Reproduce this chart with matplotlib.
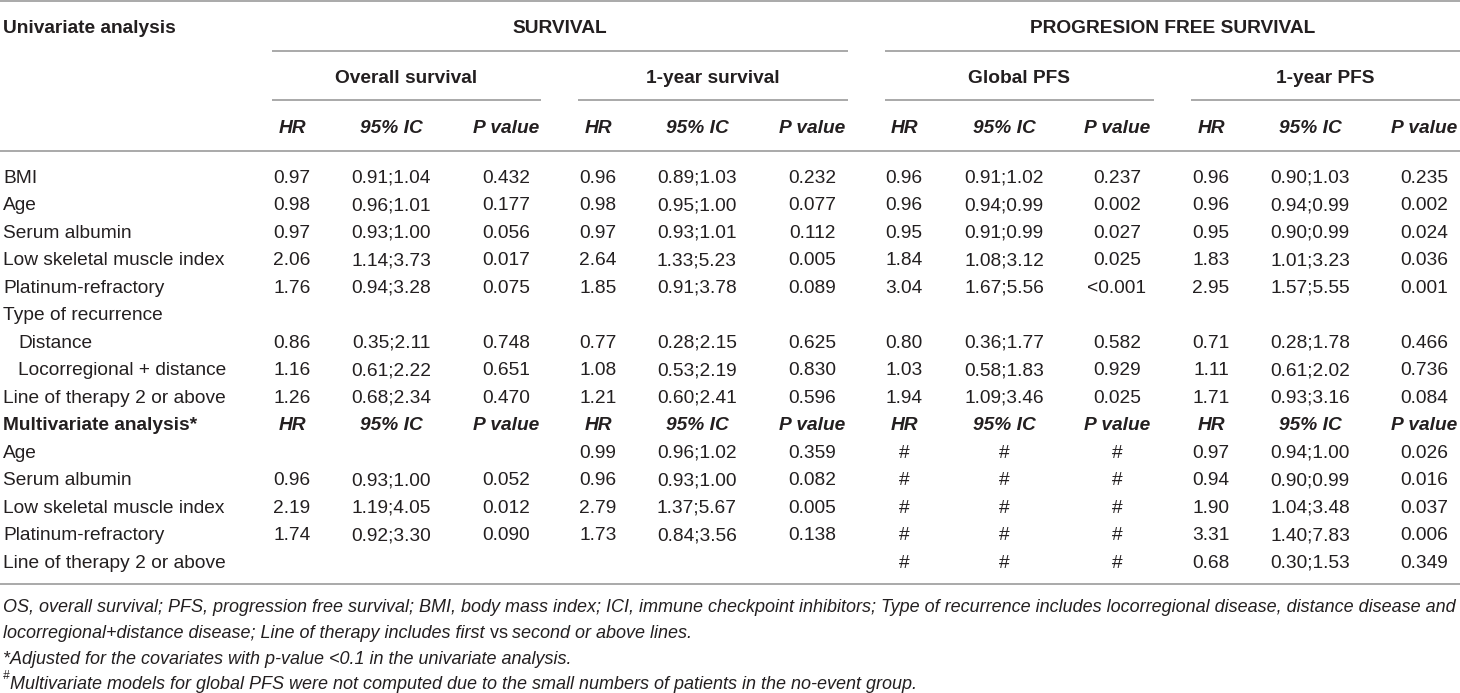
import matplotlib
matplotlib.use("Agg")
import matplotlib.pyplot as plt
from matplotlib.lines import Line2D

# ---- table content ----
uni_labels = ["BMI", "Age", "Serum albumin", "Low skeletal muscle index",
              "Platinum-refractory", "Type of recurrence", "Distance",
              "Locorregional + distance", "Line of therapy 2 or above"]
uni_indent = [False, False, False, False, False, False, True, True, False]
multi_labels = ["Age", "Serum albumin", "Low skeletal muscle index",
                "Platinum-refractory", "Line of therapy 2 or above"]

# (HR, 95% IC, P value) per row; None = empty row
uni_os = [("0.97", "0.91;1.04", "0.432"), ("0.98", "0.96;1.01", "0.177"),
          ("0.97", "0.93;1.00", "0.056"), ("2.06", "1.14;3.73", "0.017"),
          ("1.76", "0.94;3.28", "0.075"), None,
          ("0.86", "0.35;2.11", "0.748"), ("1.16", "0.61;2.22", "0.651"),
          ("1.26", "0.68;2.34", "0.470")]
uni_1y = [("0.96", "0.89;1.03", "0.232"), ("0.98", "0.95;1.00", "0.077"),
          ("0.97", "0.93;1.01", "0.112"), ("2.64", "1.33;5.23", "0.005"),
          ("1.85", "0.91;3.78", "0.089"), None,
          ("0.77", "0.28;2.15", "0.625"), ("1.08", "0.53;2.19", "0.830"),
          ("1.21", "0.60;2.41", "0.596")]
uni_gpfs = [("0.96", "0.91;1.02", "0.237"), ("0.96", "0.94;0.99", "0.002"),
            ("0.95", "0.91;0.99", "0.027"), ("1.84", "1.08;3.12", "0.025"),
            ("3.04", "1.67;5.56", "<0.001"), None,
            ("0.80", "0.36;1.77", "0.582"), ("1.03", "0.58;1.83", "0.929"),
            ("1.94", "1.09;3.46", "0.025")]
uni_1ypfs = [("0.96", "0.90;1.03", "0.235"), ("0.96", "0.94;0.99", "0.002"),
             ("0.95", "0.90;0.99", "0.024"), ("1.83", "1.01;3.23", "0.036"),
             ("2.95", "1.57;5.55", "0.001"), None,
             ("0.71", "0.28;1.78", "0.466"), ("1.11", "0.61;2.02", "0.736"),
             ("1.71", "0.93;3.16", "0.084")]

multi_os = [None, ("0.96", "0.93;1.00", "0.052"), ("2.19", "1.19;4.05", "0.012"),
            ("1.74", "0.92;3.30", "0.090"), None]
multi_1y = [("0.99", "0.96;1.02", "0.359"), ("0.96", "0.93;1.00", "0.082"),
            ("2.79", "1.37;5.67", "0.005"), ("1.73", "0.84;3.56", "0.138"), None]
multi_gpfs = [("#", "#", "#")] * 5
multi_1ypfs = [("0.97", "0.94;1.00", "0.026"), ("0.94", "0.90;0.99", "0.016"),
               ("1.90", "1.04;3.48", "0.037"), ("3.31", "1.40;7.83", "0.006"),
               ("0.68", "0.30;1.53", "0.349")]

top_headers = ["SURVIVAL", "PROGRESION FREE SURVIVAL"]
group_headers = ["Overall survival", "1-year survival", "Global PFS", "1-year PFS"]
col_headers = ["HR", "95% IC", "P value"]

footnotes = [
    "OS, overall survival; PFS, progression free survival; BMI, body mass index; ICI, immune checkpoint inhibitors; "
    "Type of recurrence includes locorregional disease, distance disease and",
    "*Adjusted for the covariates with p-value <0.1 in the univariate analysis.",
    "Multivariate models for global PFS were not computed due to the small numbers of patients in the no-event group.",
]

# ---- layout ----
W, H = 1460, 693
FONT = "Liberation Sans"
NARROW = ["Liberation Sans Narrow", "Liberation Sans"]
FS = 13.8
INK = "#231f20"
RULE = "#a3a3a3"

hr_x = [292, 598, 904, 1211]
ic_x = [391, 697, 1004, 1310]
p_x = [506, 812, 1117, 1424]
grp_span = [(272, 541), (578, 848), (885, 1154), (1191, 1460)]

row0, row_h = 176, 27.5
cap = 6.8  # half cap height, to put baselines under row centres

fig = plt.figure(figsize=(W / 100, H / 100), dpi=100)
ax = fig.add_axes([0, 0, 1, 1])
ax.set_xlim(0, W)
ax.set_ylim(H, 0)
ax.axis("off")


def txt(x, y, s, ha="center", **kw):
    kw.setdefault("family", FONT)
    kw.setdefault("fontsize", FS)
    ax.text(x, y + cap, s, ha=ha, va="baseline", color=INK, **kw)


def rule(x0, x1, y, lw=1.3):
    ax.add_line(Line2D([x0, x1], [y, y], color=RULE, lw=lw, solid_capstyle="butt"))


# header rules
rule(0, W, 1)
rule(grp_span[0][0], grp_span[1][1], 51)
rule(grp_span[2][0], grp_span[3][1], 51)
for a, b in grp_span:
    rule(a, b, 100)
rule(0, W, 151)
rule(0, W, 584)

# header text
txt(3, 26, "Univariate analysis", ha="left", weight="bold")
txt((grp_span[0][0] + grp_span[1][1]) / 2, 26, top_headers[0], weight="bold")
txt((grp_span[2][0] + grp_span[3][1]) / 2, 26, top_headers[1], weight="bold")
for (a, b), g in zip(grp_span, group_headers):
    txt((a + b) / 2, 76, g, weight="bold")


def col_head_row(y):
    for g in range(4):
        for x, s in zip((hr_x[g], ic_x[g], p_x[g]), col_headers):
            txt(x, y, s, weight="bold", style="italic")


col_head_row(126)

# univariate rows
uni_groups = [uni_os, uni_1y, uni_gpfs, uni_1ypfs]
for i, (lab, ind) in enumerate(zip(uni_labels, uni_indent)):
    y = row0 + i * row_h
    txt(18 if ind else 3, y, lab, ha="left")
    for g, grp in enumerate(uni_groups):
        vals = grp[i]
        if vals is None:
            continue
        for x, s in zip((hr_x[g], ic_x[g], p_x[g]), vals):
            txt(x, y, s)

# multivariate block
i0 = len(uni_labels)
ym = row0 + i0 * row_h
txt(3, ym, "Multivariate analysis*", ha="left", weight="bold")
col_head_row(ym)
multi_groups = [multi_os, multi_1y, multi_gpfs, multi_1ypfs]
for j, lab in enumerate(multi_labels):
    y = row0 + (i0 + 1 + j) * row_h
    txt(3, y, lab, ha="left")
    for g, grp in enumerate(multi_groups):
        vals = grp[j]
        if vals is None:
            continue
        for x, s in zip((hr_x[g], ic_x[g], p_x[g]), vals):
            txt(x, y, s)

# footnotes
fn_fs = 13.0
fn_kw = dict(family=NARROW, fontsize=fn_fs, style="italic")
txt(3, 605, footnotes[0], ha="left", **fn_kw)
t1 = ax.text(3, 631 + cap, "locorregional+distance disease; Line of therapy includes first ",
             ha="left", va="baseline", color=INK, **fn_kw)
t2 = ax.annotate("vs ", xy=(1, 0), xycoords=t1, ha="left", va="bottom", color=INK,
                 family=NARROW, fontsize=fn_fs)
ax.annotate("second or above lines.", xy=(1, 0), xycoords=t2, ha="left", va="bottom",
            color=INK, **fn_kw)
txt(3, 657, footnotes[1], ha="left", **fn_kw)
ax.text(3, 682 - 3, "#", ha="left", va="baseline", color=INK, family=NARROW, fontsize=8.5, style="italic")
txt(10, 682, footnotes[2], ha="left", **fn_kw)

fig.savefig("out.png", dpi=100, facecolor="white")
